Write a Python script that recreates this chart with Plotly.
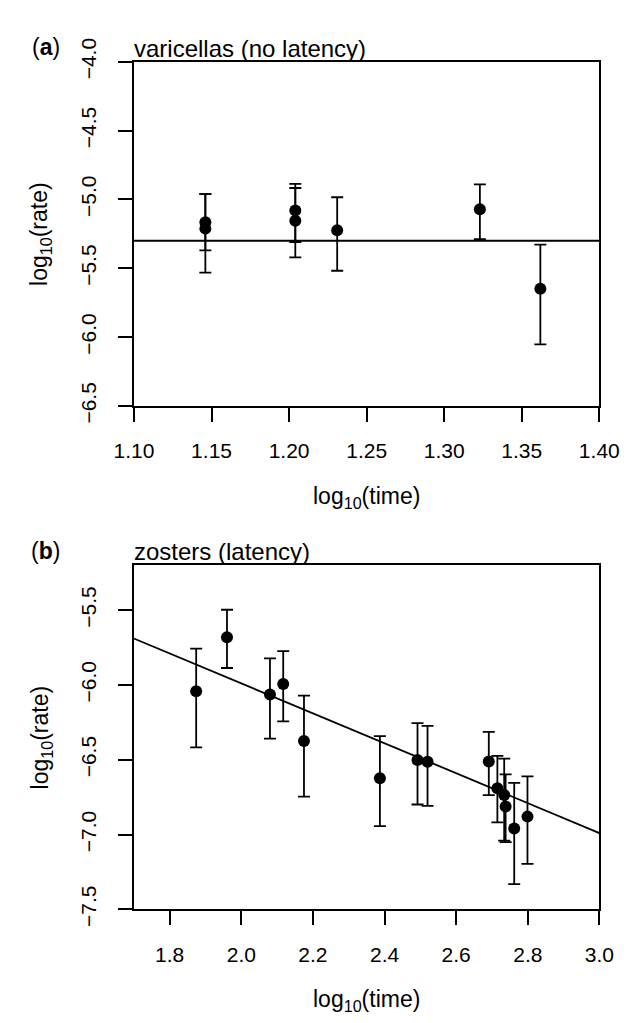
import plotly.graph_objects as go

# ---------------- data ----------------
# panel (a): varicellas (no latency)
a_time = [1.146, 1.146, 1.204, 1.204, 1.231, 1.323, 1.362]
a_rate = [-5.165, -5.212, -5.080, -5.154, -5.223, -5.072, -5.648]
a_upper = [-4.961, -4.961, -4.887, -4.917, -4.984, -4.891, -5.328]
a_lower = [-5.370, -5.532, -5.309, -5.421, -5.518, -5.288, -6.052]
a_fit_level = -5.30

# panel (b): zosters (latency)
b_time = [1.874, 1.960, 2.080, 2.117, 2.175, 2.387, 2.492, 2.520, 2.691, 2.715, 2.734, 2.738, 2.762, 2.799]
b_rate = [-6.043, -5.682, -6.064, -5.994, -6.374, -6.624, -6.502, -6.513, -6.511, -6.690, -6.735, -6.812, -6.960, -6.880]
b_upper = [-5.758, -5.498, -5.823, -5.774, -6.072, -6.342, -6.256, -6.274, -6.314, -6.474, -6.492, -6.598, -6.654, -6.611]
b_lower = [-6.417, -5.887, -6.359, -6.244, -6.746, -6.944, -6.799, -6.808, -6.737, -6.919, -7.040, -7.051, -7.331, -7.196]
b_fit_intercept = -3.99
b_fit_slope = -1.0

a_xrange = [1.10, 1.40]
a_yrange = [-6.5, -4.0]
b_xrange = [1.70, 3.0]
b_yrange = [-7.5, -5.2]

titles = ["varicellas (no latency)", "zosters (latency)"]
panel_tags = ["(<b>a</b>)", "(<b>b</b>)"]
xlabel = "log<sub>10</sub>(time)"
ylabel = "log<sub>10</sub>(rate)"

# ---------------- layout constants ----------------
W, H = 633, 1023
FONT = "Liberation Sans, Arial, Helvetica, sans-serif"
L, R = 113, 610
A_TOP, A_BOT = 31, 390
B_TOP, B_BOT = 556, 915


def px(x):
    return x / W


def py(y):
    return 1 - y / H


fig = go.Figure()


def add_points(x, y, hi, lo, xa, ya):
    fig.add_trace(go.Scatter(
        x=x, y=y, mode="markers", xaxis=xa, yaxis=ya,
        marker=dict(color="black", size=12),
        error_y=dict(type="data", symmetric=False,
                     array=[h - v for h, v in zip(hi, y)],
                     arrayminus=[v - l for v, l in zip(y, lo)],
                     color="black", thickness=1.8, width=6),
        showlegend=False, hoverinfo="skip"))


add_points(a_time, a_rate, a_upper, a_lower, "x", "y")
add_points(b_time, b_rate, b_upper, b_lower, "x2", "y2")

# fitted lines
fig.add_trace(go.Scatter(x=a_xrange, y=[a_fit_level, a_fit_level], mode="lines",
                         xaxis="x", yaxis="y", line=dict(color="black", width=1.8),
                         showlegend=False, hoverinfo="skip"))
fig.add_trace(go.Scatter(x=b_xrange,
                         y=[b_fit_intercept + b_fit_slope * v for v in b_xrange],
                         mode="lines", xaxis="x2", yaxis="y2",
                         line=dict(color="black", width=1.8),
                         showlegend=False, hoverinfo="skip"))

axis_common = dict(showline=True, linecolor="black", linewidth=1.8, mirror=True,
                   ticks="outside", ticklen=14, tickwidth=1.8, tickcolor="black",
                   showgrid=False, zeroline=False,
                   tickfont=dict(family=FONT, size=21, color="black"))

eps = 1e-4
fig.update_layout(
    width=W, height=H, margin=dict(l=0, r=0, t=0, b=0),
    paper_bgcolor="white", plot_bgcolor="white",
    font=dict(family=FONT, color="black"),
    xaxis=dict(domain=[px(L), px(R)], range=[a_xrange[0] - eps, a_xrange[1] + eps],
               tickmode="linear", tick0=1.10, dtick=0.05, tickformat=".2f",
               anchor="y", ticklabelstandoff=11, **axis_common),
    yaxis=dict(domain=[py(A_BOT), py(A_TOP)], range=[a_yrange[0] - eps, a_yrange[1] + eps],
               tickmode="linear", tick0=-6.5, dtick=0.5, tickformat=".1f",
               tickangle=-90, anchor="x", ticklabelstandoff=14, **axis_common),
    xaxis2=dict(domain=[px(L), px(R)], range=b_xrange,
                tickmode="linear", tick0=1.8, dtick=0.2, tickformat=".1f",
                anchor="y2", ticklabelstandoff=11, **axis_common),
    yaxis2=dict(domain=[py(B_BOT), py(B_TOP)], range=[b_yrange[0] - eps, b_yrange[1]],
                tickmode="linear", tick0=-7.5, dtick=0.5, tickformat=".1f",
                tickangle=-90, anchor="x2", ticklabelstandoff=14, **axis_common),
)

ann = []
for i, (top, bot) in enumerate([(A_TOP, A_BOT), (B_TOP, B_BOT)]):
    ann.append(dict(text=titles[i], xref="paper", yref="paper", x=px(L - 2),
                    y=py(top - 14), xanchor="left", yanchor="middle", showarrow=False,
                    font=dict(family=FONT, size=24, color="black")))
    ann.append(dict(text=panel_tags[i], xref="paper", yref="paper", x=px(19),
                    y=py(top - 15), xanchor="center", yanchor="middle", showarrow=False,
                    font=dict(family=FONT, size=23, color="black")))
    ann.append(dict(text=ylabel, xref="paper", yref="paper", x=px(14),
                    y=py((top + bot) / 2), xanchor="center", yanchor="middle",
                    textangle=-90, showarrow=False,
                    font=dict(family=FONT, size=23, color="black")))
    ann.append(dict(text=xlabel, xref="paper", yref="paper", x=px((L + R) / 2),
                    y=py(bot + 95), xanchor="center", yanchor="middle", showarrow=False,
                    font=dict(family=FONT, size=23, color="black")))
fig.update_layout(annotations=ann)

fig.write_html("out.html")
